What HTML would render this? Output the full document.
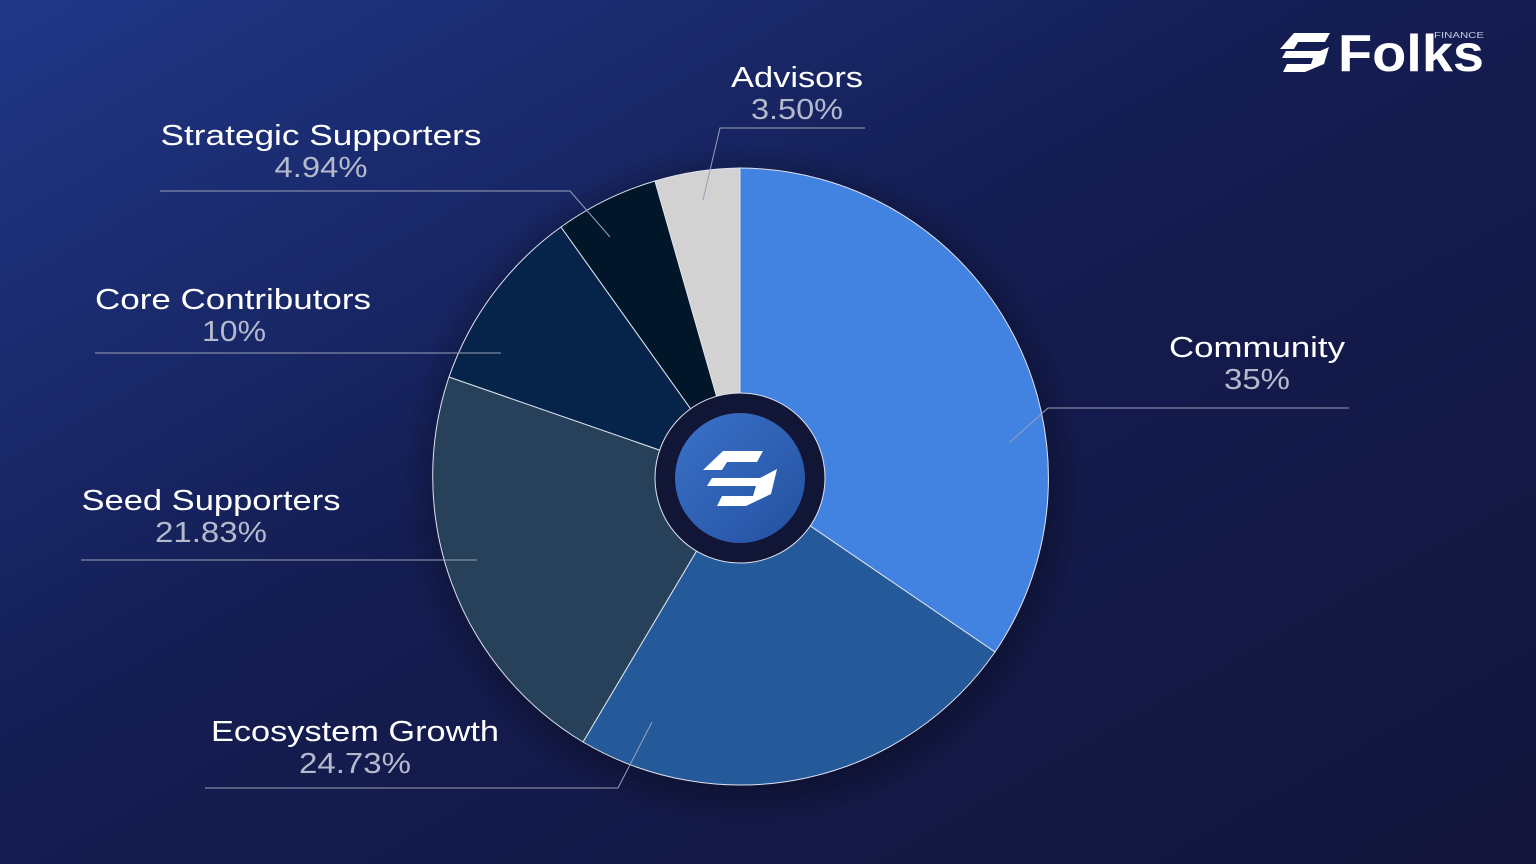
<!DOCTYPE html>
<html><head><meta charset="utf-8"><style>
html,body{margin:0;padding:0;}
body{width:1536px;height:864px;overflow:hidden;background:#131840;}
svg{display:block}
</style></head><body>
<svg width="1536" height="864" viewBox="0 0 1536 864" xmlns="http://www.w3.org/2000/svg" font-family="Liberation Sans, sans-serif">
<defs>
<linearGradient id="bg" x1="0" y1="0" x2="1" y2="1">
<stop offset="0" stop-color="#203788"/>
<stop offset="0.45" stop-color="#141d52"/>
<stop offset="1" stop-color="#12143a"/>
</linearGradient>
<radialGradient id="sh" cx="0.5" cy="0.5" r="0.5">
<stop offset="0.85" stop-color="#000" stop-opacity="0.35"/>
<stop offset="1" stop-color="#000" stop-opacity="0"/>
</radialGradient>
<linearGradient id="cb" x1="0" y1="0" x2="1" y2="1">
<stop offset="0" stop-color="#3a72c8"/>
<stop offset="1" stop-color="#2450a0"/>
</linearGradient>
</defs>
<rect width="1536" height="864" fill="url(#bg)"/>
<circle cx="742" cy="484" r="340" fill="url(#sh)"/>
<g stroke="#dfe3ee" stroke-width="1">
<path d="M740,478 L740,168 A310,310 0 0 1 995,652 Z" fill="#4282e0"/>
<path d="M740,478 L995,652 A310,310 0 0 1 583,742 Z" fill="#245a9a"/>
<path d="M740,478 L583,742 A310,310 0 0 1 449,377 Z" fill="#28415a"/>
<path d="M740,478 L449,377 A310,310 0 0 1 561,227 Z" fill="#06244a"/>
<path d="M740,478 L561,227 A310,310 0 0 1 655,181 Z" fill="#02162a"/>
<path d="M740,478 L655,181 A310,310 0 0 1 740,168 Z" fill="#d2d2d2"/>
</g>
<circle cx="740" cy="478" r="85" fill="#111536" stroke="#dfe3ee" stroke-width="1"/>
<circle cx="740" cy="478" r="65" fill="url(#cb)"/>
<g fill="#fff">
<path d="M723,451 L763,451 L757,462 L727,462 L722,470 L703,470 Z"/>
<path d="M777,469 L771,494 L746,506 L717,506 L722,496 L753,496 L756,486 L707,486 L712,478 L760,478 Z"/>
</g>
<g stroke="#9aa0b8" stroke-width="1" fill="none">
<polyline points="703,200 720,128 865,128"/>
<polyline points="160,191 570,191 610,237"/>
<polyline points="95,353 501,353"/>
<polyline points="1010,442 1048,408 1349,408"/>
<polyline points="81,560 477,560"/>
<polyline points="205,788 618,788 652,722"/>
</g>
<g font-size="29" text-anchor="middle">
<g fill="#ffffff">
<text x="797" y="87" textLength="132" lengthAdjust="spacingAndGlyphs">Advisors</text>
<text x="321" y="145" textLength="321" lengthAdjust="spacingAndGlyphs">Strategic Supporters</text>
<text x="233" y="309" textLength="276" lengthAdjust="spacingAndGlyphs">Core Contributors</text>
<text x="1257" y="357" textLength="176" lengthAdjust="spacingAndGlyphs">Community</text>
<text x="211" y="510" textLength="259" lengthAdjust="spacingAndGlyphs">Seed Supporters</text>
<text x="355" y="741" textLength="288" lengthAdjust="spacingAndGlyphs">Ecosystem Growth</text>
</g>
<g fill="#b4b9cc">
<text x="797" y="119" textLength="92" lengthAdjust="spacingAndGlyphs">3.50%</text>
<text x="321" y="177" textLength="93" lengthAdjust="spacingAndGlyphs">4.94%</text>
<text x="234" y="341" textLength="64" lengthAdjust="spacingAndGlyphs">10%</text>
<text x="1257" y="389" textLength="66" lengthAdjust="spacingAndGlyphs">35%</text>
<text x="211" y="542" textLength="112" lengthAdjust="spacingAndGlyphs">21.83%</text>
<text x="355" y="773" textLength="112" lengthAdjust="spacingAndGlyphs">24.73%</text>
</g>
</g>
<g fill="#fff">
<path d="M1294,33 L1330,33 L1325,42 L1298,42 L1294,49 L1280,49 Z"/>
<path d="M1329,47 L1324,64 L1305,72 L1283,72 L1287,64 L1311,64 L1313,58 L1282,58 L1286,51 L1320,51 Z"/>
<text x="1338" y="71" font-size="52" font-weight="bold" textLength="146" lengthAdjust="spacingAndGlyphs">Folks</text>
<text x="1434" y="38" font-size="8" fill="#c8cbe0" textLength="50" lengthAdjust="spacingAndGlyphs">FINANCE</text>
</g>
</svg>
</body></html>
